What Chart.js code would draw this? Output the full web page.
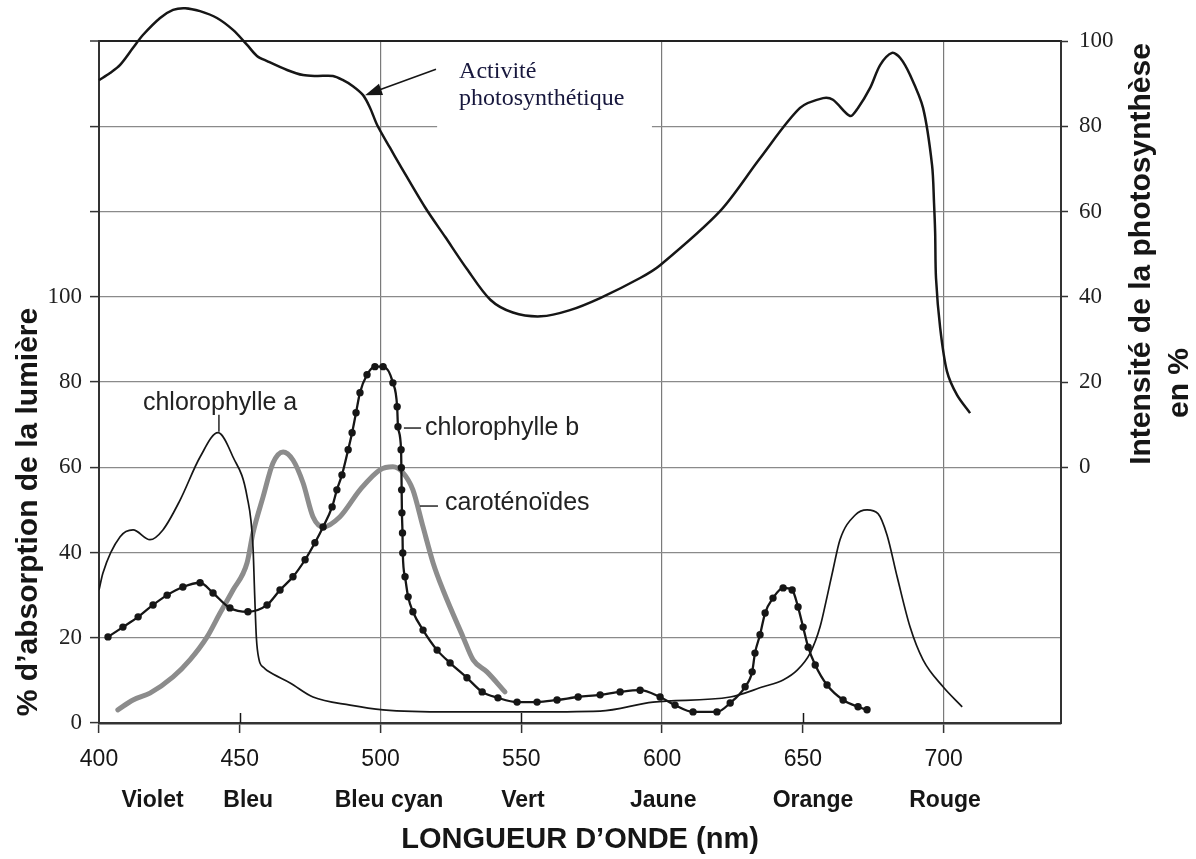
<!DOCTYPE html>
<html>
<head>
<meta charset="utf-8">
<script src="https://cdn.jsdelivr.net/npm/chart.js@4.4.1/dist/chart.umd.min.js"></script>
<style>
  html, body { margin: 0; padding: 0; background: #fff; }
</style>
</head>
<body>
<canvas id="c" width="1196" height="859"></canvas>
<script>
// wavelengths (nm) and values
var photoNm = [400, 403.9, 407.5, 412.1, 415.6, 421.7, 426.3, 430.6, 435.9, 441.9, 447.6, 452.6, 456.1, 459.7, 466.8, 472.5, 477.4, 483.1, 486.7, 490.2, 493.8, 496.3, 498.8, 503.4, 506.9, 515.8, 523, 530.7, 539, 547, 557, 567, 578, 592.2, 599.3, 620.6, 634.8, 649, 657.2, 660.7, 666.8, 669.6, 673.9, 677.5, 681.7, 684.6, 688.1, 692.7, 695.9, 696.6, 697.0, 697.3, 698.8, 701.2, 704.8, 709.4];
var photoVal = [90.8, 92.5, 94.4, 98.4, 101.4, 105.4, 107.3, 107.7, 107, 105.4, 102.6, 99.1, 96.5, 95.3, 93.2, 92, 91.8, 91.8, 90.8, 89.4, 87.3, 84.3, 80.3, 74.9, 70.9, 61, 54, 46.5, 39.3, 36.3, 35.4, 36.8, 39.7, 44.4, 47.4, 60.1, 72.5, 84.3, 86.6, 86.2, 82.4, 84.3, 89, 94.4, 97.2, 96, 92, 84.3, 70.9, 62, 55, 44.4, 32.6, 22.5, 16.9, 12.7];

var chlANm = [400, 401.4, 407.5, 412.1, 418.1, 422.7, 428.8, 435.9, 442.3, 447.6, 452.6, 454.7, 455.3, 455.9, 456.8, 458.5, 460, 467.9, 476, 489.2, 500.9, 524.7, 549.6, 578, 596.8, 624.2, 635.9, 643, 648, 652.6, 656.1, 658.6, 660.7, 663.2, 668.6, 672.8, 676.7, 679.9, 683.5, 688.1, 692.7, 699.8, 706.6];
var chlAVal = [31.2, 35.2, 43.7, 45.3, 43, 45.3, 52.3, 62.4, 68.1, 62.4, 53.1, 41.3, 30, 20, 15, 13, 12.2, 9.4, 6.1, 4.2, 3.1, 2.6, 2.6, 2.8, 4.9, 6.1, 8.5, 10.1, 12.4, 16.4, 22.5, 29.6, 35.9, 43, 48.8, 50, 49.1, 44.1, 34.3, 22.5, 14.8, 8.5, 3.8];

var chlBNm = [403.2, 408.5, 413.9, 419.2, 424.2, 429.8, 435.9, 440.5, 446.5, 452.9, 459.7, 464.3, 468.9, 473.2, 476.7, 479.6, 482.8, 484.5, 486.3, 488.5, 489.9, 491.3, 492.7, 495.2, 498, 500.9, 504.4, 505.9, 506.2, 507.3, 507.4, 507.5, 507.6, 507.8, 507.9, 508.7, 509.8, 511.5, 515.1, 520.1, 524.7, 530.7, 536.1, 541.7, 548.5, 555.6, 562.7, 570.2, 578, 585.1, 592.2, 599.3, 604.6, 611, 619.5, 624.2, 629.5, 632, 633, 634.8, 636.6, 639.4, 643, 646.2, 648.3, 650.1, 651.9, 654.4, 658.6, 664.3, 669.6, 672.8];
var chlBVal = [20.2, 22.5, 24.9, 27.7, 30, 31.9, 32.9, 30.5, 27, 26.1, 27.7, 31.2, 34.3, 38.3, 42.3, 46, 50.7, 54.7, 58.2, 64.1, 68.1, 72.8, 77.5, 81.7, 83.6, 83.6, 79.8, 74.2, 69.5, 64.1, 59.9, 54.7, 49.3, 44.6, 39.9, 34.3, 29.6, 26.1, 21.8, 17.1, 14.1, 10.6, 7.3, 5.9, 4.9, 4.9, 5.4, 6.1, 6.6, 7.3, 7.7, 6.1, 4.2, 2.6, 2.6, 4.7, 8.5, 12, 16.4, 20.7, 25.8, 29.3, 31.7, 31.2, 27.2, 22.5, 17.8, 13.6, 8.9, 5.4, 3.8, 3.1];

var caroNm = [406.7, 412.1, 418.1, 426.3, 432.3, 438.4, 443, 447.6, 452.6, 454.7, 458.3, 461.8, 465.4, 468.9, 472.5, 476, 479.6, 485.6, 492.7, 499.8, 504.4, 508, 511.5, 515.1, 518.7, 522.2, 529.3, 532.9, 537.8, 544.2];
var caroVal = [3.1, 5.4, 7, 10.8, 14.8, 20.2, 25.8, 31.2, 37.6, 44.6, 53.1, 61, 63.6, 61.7, 56.3, 48.4, 46, 48.4, 54.7, 59.4, 60.1, 58.7, 54.7, 46, 37.5, 31.2, 20.2, 14.8, 12, 7.3];

var xTicks = [400, 450, 500, 550, 600, 650, 700];
var xGridAt = [500, 600, 700];
var colourNames = ['Violet', 'Bleu', 'Bleu cyan', 'Vert', 'Jaune', 'Orange', 'Rouge'];
var colourNm = [419, 453, 503, 550.6, 600.4, 653.6, 700.5];

var SANS = "'Liberation Sans', Arial, sans-serif";
var SERIF = "'Liberation Serif', 'Times New Roman', serif";
var INK = '#161616';

function pts(xs, ys) {
  return xs.map(function (x, i) { return { x: x, y: ys[i] }; });
}

function text(ctx, str, x, y, font, color, align) {
  ctx.font = font;
  ctx.fillStyle = color || INK;
  ctx.textAlign = align || 'left';
  ctx.textBaseline = 'alphabetic';
  ctx.fillText(str, x, y);
}

function line(ctx, x1, y1, x2, y2, w) {
  ctx.beginPath();
  ctx.moveTo(x1, y1);
  ctx.lineTo(x2, y2);
  ctx.lineWidth = w || 1.5;
  ctx.strokeStyle = INK;
  ctx.stroke();
}

function vtext(ctx, str, x, y, font) {
  ctx.save();
  ctx.translate(x, y);
  ctx.rotate(-Math.PI / 2);
  text(ctx, str, 0, 0, font, INK, 'center');
  ctx.restore();
}

var decor = {
  id: 'decor',
  beforeDatasetsDraw: function (chart) {
    var c = chart.ctx, sx = chart.scales.x, s2 = chart.scales.y2;
    // white box behind the annotation (it cuts the grid line under it)
    var bx0 = sx.getPixelForValue(520.1), bx1 = sx.getPixelForValue(596.4);
    var by0 = s2.getPixelForValue(97), by1 = s2.getPixelForValue(79);
    c.save();
    c.fillStyle = '#fff';
    c.fillRect(bx0, by0, bx1 - bx0, by1 - by0);
    // short marks crossing the axis at 450, 550, 650
    xTicks.forEach(function (v) {
      if (xGridAt.indexOf(v) >= 0 || v === 400) return;
      var px = Math.round(sx.getPixelForValue(v)) + 0.5;
      line(c, px, chart.chartArea.bottom - 10, px, chart.chartArea.bottom, 1.5);
    });
    c.restore();
  },
  afterDraw: function (chart) {
    var c = chart.ctx, sx = chart.scales.x, sy = chart.scales.y, s2 = chart.scales.y2;
    var X = function (v) { return sx.getPixelForValue(v); };
    var Y = function (v) { return sy.getPixelForValue(v); };
    var Y2 = function (v) { return s2.getPixelForValue(v); };
    c.save();

    // colour names under the wavelengths
    colourNames.forEach(function (n, i) {
      text(c, n, X(colourNm[i]), 807, 'bold 23px ' + SANS, INK, 'center');
    });
    text(c, 'LONGUEUR D\u2019ONDE (nm)', (chart.chartArea.left + chart.chartArea.right) / 2, 848, 'bold 29px ' + SANS, INK, 'center');

    // axis titles
    vtext(c, '% d\u2019absorption de la lumière', 37, 512, 'bold 30px ' + SANS);
    vtext(c, 'Intensité de la photosynthèse', 1150, 254, 'bold 30px ' + SANS);
    vtext(c, 'en %', 1188, 383, 'bold 30px ' + SANS);

    // annotation + arrow
    text(c, 'Activité', X(527.9), Y2(91.3), '24px ' + SERIF, '#17173d');
    text(c, 'photosynthétique', X(527.9), Y2(85), '24px ' + SERIF, '#17173d');
    var ax = X(519.7), ay = Y2(93.4), bx = X(494.5), by = Y2(87.3);
    var dx = bx - ax, dy = by - ay, L = Math.sqrt(dx * dx + dy * dy), ux = dx / L, uy = dy / L;
    line(c, ax, ay, bx - ux * 12, by - uy * 12, 1.6);
    c.beginPath();
    c.moveTo(bx, by);
    c.lineTo(bx - ux * 17 - uy * 6, by - uy * 17 + ux * 6);
    c.lineTo(bx - ux * 17 + uy * 6, by - uy * 17 - ux * 6);
    c.closePath();
    c.fillStyle = INK;
    c.fill();

    // curve labels with their leaders
    text(c, 'chlorophylle a', X(443), Y(73.5), '25px ' + SANS, '#222', 'center');
    line(c, X(442.6), Y(72.3), X(442.6), Y(68.3), 1.4);
    text(c, 'chlorophylle b', X(515.8), Y(67.6), '25px ' + SANS, '#222');
    line(c, X(508.3), Y(69.2), X(514.4), Y(69.2), 1.4);
    text(c, 'caroténoïdes', X(522.9), Y(50), '25px ' + SANS, '#222');
    line(c, X(514), Y(50.9), X(520.4), Y(50.9), 1.4);
    c.restore();
  }
};

new Chart(document.getElementById('c'), {
  type: 'line',
  data: {
    datasets: [
      {
        label: 'chlorophylle b',
        data: pts(chlBNm, chlBVal),
        yAxisID: 'y',
        borderColor: INK,
        borderWidth: 2.3,
        pointRadius: 3.7,
        pointBackgroundColor: INK,
        pointBorderWidth: 0
      },
      {
        label: 'chlorophylle a',
        data: pts(chlANm, chlAVal),
        yAxisID: 'y',
        borderColor: INK,
        borderWidth: 1.7,
        pointRadius: 0
      },
      {
        label: 'Activité photosynthétique',
        data: pts(photoNm, photoVal),
        yAxisID: 'y2',
        borderColor: INK,
        borderWidth: 2.5,
        pointRadius: 0,
        cubicInterpolationMode: 'default',
        tension: 0.3,
        clip: false
      },
      {
        label: 'caroténoïdes',
        data: pts(caroNm, caroVal),
        yAxisID: 'y',
        borderColor: '#8c8c8c',
        borderWidth: 5,
        borderCapStyle: 'round',
        pointRadius: 0
      }
    ]
  },
  options: {
    responsive: false,
    animation: false,
    devicePixelRatio: 1,
    layout: { padding: { top: 41, left: 0, right: 0, bottom: 0 } },
    plugins: { legend: { display: false }, tooltip: { enabled: false } },
    elements: { line: { cubicInterpolationMode: 'monotone', fill: false } },
    scales: {
      x: {
        type: 'linear',
        min: 400,
        max: 741.7,
        afterBuildTicks: function (s) { s.ticks = xTicks.map(function (v) { return { value: v }; }); },
        afterFit: function (s) { s.height = 136; },
        ticks: { font: { family: SANS, size: 23 }, color: INK, padding: 13, maxRotation: 0, autoSkip: false },
        grid: {
          color: function (ctx) { return xGridAt.indexOf(ctx.tick.value) >= 0 ? '#7a7a7a' : 'rgba(0,0,0,0)'; },
          lineWidth: 1.2,
          tickColor: '#333',
          tickLength: 10,
          tickWidth: 1.5
        },
        border: { color: '#333', width: 2.5 }
      },
      y: {
        position: 'left',
        min: 0,
        max: 160,
        afterFit: function (s) { s.width = 99; },
        ticks: {
          stepSize: 20,
          font: { family: SERIF, size: 23 },
          color: '#222',
          padding: 8,
          callback: function (v) { return v <= 100 ? v : ''; }
        },
        grid: {
          color: function (ctx) { return ctx.tick.value === 160 ? '#222' : '#8a8a8a'; },
          lineWidth: function (ctx) { return ctx.tick.value === 160 ? 2 : 1.2; },
          tickColor: '#333',
          tickLength: 9,
          tickWidth: 1.5
        },
        border: { color: '#333', width: 2 }
      },
      y2: {
        position: 'right',
        min: -60,
        max: 100,
        afterFit: function (s) { s.width = 135; },
        ticks: {
          stepSize: 20,
          font: { family: SERIF, size: 23 },
          color: '#222',
          padding: 11,
          callback: function (v) { return v >= 0 ? v : ''; }
        },
        grid: {
          drawOnChartArea: false,
          tickColor: function (ctx) { return ctx.tick.value >= 0 ? '#333' : 'rgba(0,0,0,0)'; },
          tickLength: 7,
          tickWidth: 1.5
        },
        border: { color: '#333', width: 2 }
      }
    }
  },
  plugins: [decor]
});
</script>
</body>
</html>
